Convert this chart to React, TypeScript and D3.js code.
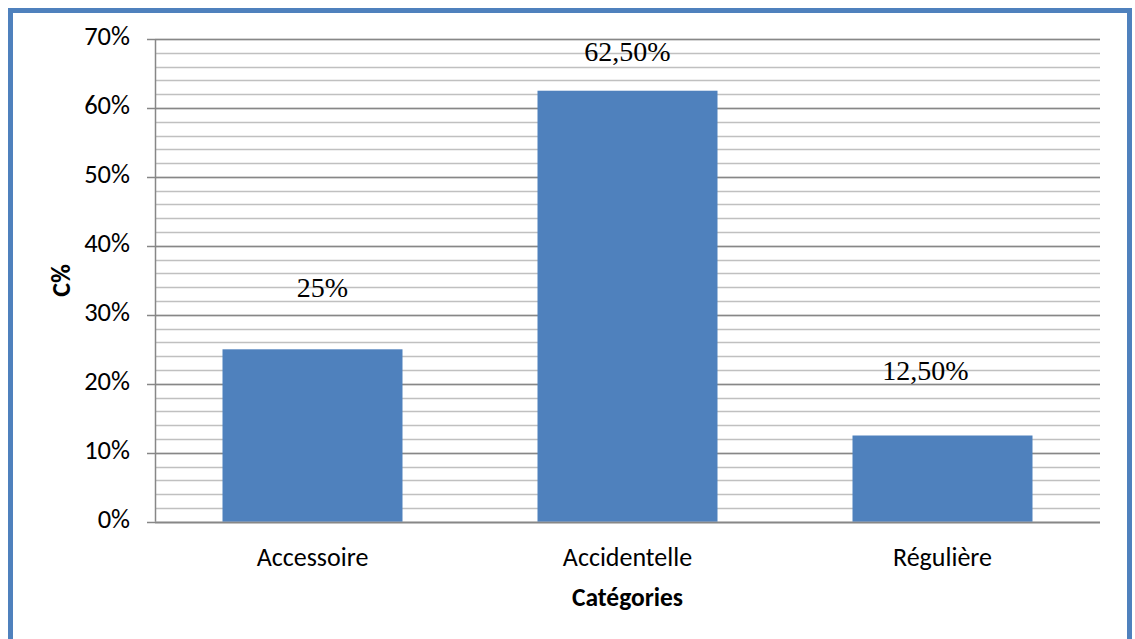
import React from "react";
import * as d3 from "d3";

const categories = ["Accessoire", "Accidentelle", "Régulière"];
const values = [0.25, 0.625, 0.125];
const valueLabels = ["25%", "62,50%", "12,50%"];
const yTicks = [0, 0.1, 0.2, 0.3, 0.4, 0.5, 0.6, 0.7];
const minorTicks = d3.range(0, 0.7001, 0.02);

const W = 1135;
const H = 639;
const plot = { left: 155, right: 1100, top: 39, bottom: 521.7 };
// data-label placement tweaks (manual in the original)
const labelDx = [10, 0, -17];
const labelLift = [52, 30, 56];

const SANS = "Carlito, Calibri, Lato, 'Open Sans', sans-serif";
const SERIF = "'Liberation Serif', 'Times New Roman', serif";

export default function App() {
  const x = d3
    .scaleBand<string>()
    .domain(categories)
    .range([plot.left, plot.right])
    .paddingInner(135 / 315)
    .paddingOuter(135 / 630);
  const y = d3.scaleLinear().domain([0, 0.7]).range([plot.bottom, plot.top]);
  const fmt = d3.format(".0%");

  return (
    <svg
      width={W}
      height={H}
      style={{ position: "absolute", left: 0, top: 0, background: "#fff" }}
    >
      <rect x={10.5} y={10.5} width={1119} height={720} fill="#fff" stroke="#4F81BD" strokeWidth={5} />
      {minorTicks.map((t, i) => (
        <line
          key={"m" + i}
          x1={plot.left}
          x2={plot.right}
          y1={Math.round(y(t)) + 0.5}
          y2={Math.round(y(t)) + 0.5}
          stroke="#C0C0C0"
          strokeWidth={1.3}
        />
      ))}
      {yTicks.map((t, i) => (
        <g key={"t" + i}>
          <line
            x1={plot.left - 8}
            x2={plot.right}
            y1={Math.round(y(t)) + 0.5}
            y2={Math.round(y(t)) + 0.5}
            stroke="#878787"
            strokeWidth={1.3}
          />
          <text
            x={130}
            y={y(t)}
            textAnchor="end"
            dominantBaseline="middle"
            fontFamily={SANS}
            fontSize={26.5}
            fill="#000"
          >
            {fmt(t)}
          </text>
        </g>
      ))}
      {categories.map((c, i) => (
        <rect
          key={"b" + i}
          x={x(c)!}
          y={y(values[i])}
          width={x.bandwidth()}
          height={y(0) - y(values[i])}
          fill="#4F81BD"
        />
      ))}
      <line x1={plot.left + 0.5} x2={plot.left + 0.5} y1={plot.top} y2={plot.bottom} stroke="#878787" strokeWidth={1.5} />
      <line x1={plot.left} x2={plot.right} y1={Math.round(y(0)) + 0.5} y2={Math.round(y(0)) + 0.5} stroke="#878787" strokeWidth={1.5} />
      {categories.map((c, i) => (
        <text
          key={"v" + i}
          x={x(c)! + x.bandwidth() / 2 + labelDx[i]}
          y={y(values[i]) - labelLift[i]}
          textAnchor="middle"
          fontFamily={SERIF}
          fontSize={28}
          fill="#000"
        >
          {valueLabels[i]}
        </text>
      ))}
      {categories.map((c, i) => (
        <text
          key={"c" + i}
          x={x(c)! + x.bandwidth() / 2}
          y={565.7}
          textAnchor="middle"
          fontFamily={SANS}
          fontSize={26}
          fill="#000"
        >
          {c}
        </text>
      ))}
      <text
        x={(plot.left + plot.right) / 2}
        y={605.7}
        textAnchor="middle"
        fontFamily={SANS}
        fontSize={25.5}
        fontWeight="bold"
        fill="#000"
      >
        Catégories
      </text>
      <text
        transform={`translate(70, ${(plot.top + plot.bottom) / 2}) rotate(-90)`}
        textAnchor="middle"
        fontFamily={SANS}
        fontSize={26}
        fontWeight="bold"
        fill="#000"
      >
        C%
      </text>
    </svg>
  );
}
